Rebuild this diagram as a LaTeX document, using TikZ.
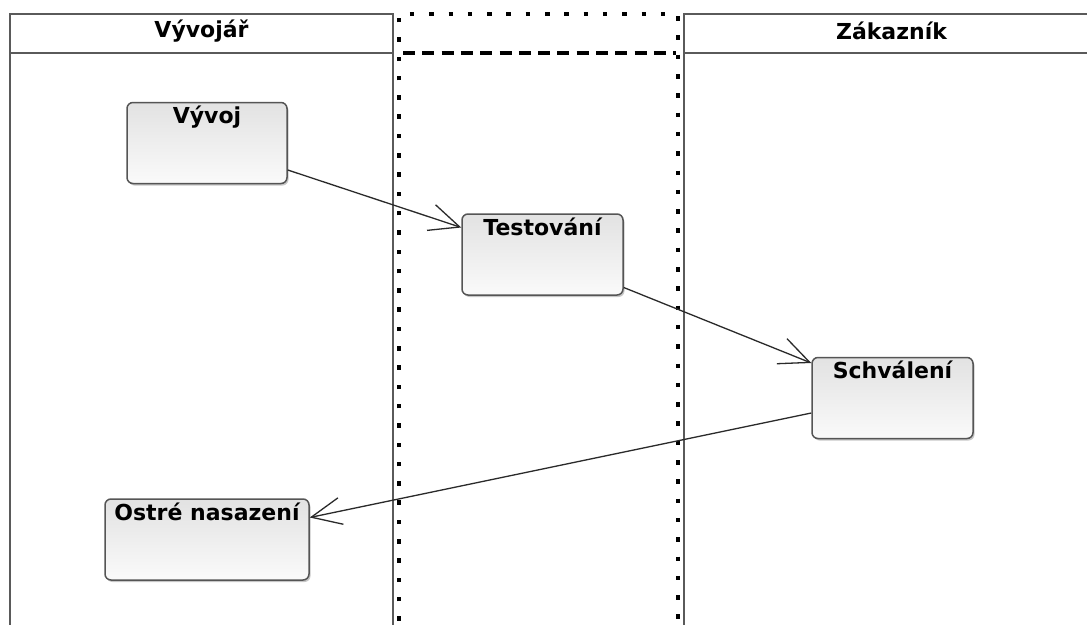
\documentclass[tikz,border=0pt]{standalone}
\usepackage{fontspec}
\setmainfont{DejaVu Sans}
\usetikzlibrary{arrows.meta,shadows}
\definecolor{lanegray}{HTML}{5A5A5A}
\definecolor{boxborder}{HTML}{555555}
\definecolor{boxtop}{HTML}{E2E2E2}
\definecolor{boxbot}{HTML}{FAFAFA}
\definecolor{linecol}{HTML}{2A2A2A}
\tikzset{
  lane/.style={draw=lanegray, line width=1.3pt},
  lanetitle/.style={font=\bfseries\fontsize{22}{26}\selectfont, text=black, inner sep=0pt},
  dotlane/.style={draw=black, line width=4.5pt, dash pattern=on 4.5pt off 14.8pt},
  dashlane/.style={draw=black, line width=4.5pt, dash pattern=on 12pt off 7.3pt},
  activity/.style={draw=boxborder, line width=1.5pt, rounded corners=6pt,
    top color=boxtop, bottom color=boxbot,
    drop shadow={shadow xshift=1.5pt, shadow yshift=-2pt, fill=black, opacity=0.22},
    font=\bfseries\fontsize{22}{26}\selectfont, text=black,
    inner xsep=0pt, inner ysep=5pt, text height=16pt, text depth=55pt},
  flow/.style={draw=linecol, line width=1.3pt,
    -{Straight Barb[length=30pt, width=27pt]}}
}
\begin{document}
\begin{tikzpicture}[x=1pt, y=-1pt]
\useasboundingbox (0,0) rectangle (1087,624);
\clip (0,0) rectangle (1087,624);
\fill[white] (0,0) rectangle (1087,624);
% left lane
\draw[lane] (10,640) -- (10,14) -- (393,14) -- (393,640);
\draw[lane] (10,53) -- (393,53);
\node[lanetitle] (t1) at (201.5,31) {Vývojář};
% right lane
\draw[lane] (684,640) -- (684,14) -- (1099,14);
\draw[lane] (684,53) -- (1099,53);
\node[lanetitle] (t2) at (891.5,31) {Zákazník};
% middle lane
\draw[dotlane] (399,640) -- (399,14) -- (678,14) -- (678,640);
\draw[dashlane] (403,53) -- (676,53);
% activities
\node[activity, minimum width=160pt] (vyvoj) at (207,143) {Vývoj};
\node[activity, minimum width=161pt] (test) at (542.5,254.5) {Testování};
\node[activity, minimum width=161pt] (schv) at (892.5,398) {Schválení};
\node[activity, minimum width=204pt] (ostre) at (207,539.5) {Ostré nasazení};
% flows
\draw[flow] ([yshift=-27pt]vyvoj.east) -- ([yshift=27pt]test.west);
\draw[flow] ([yshift=-33pt]test.east) -- ([yshift=35pt]schv.west);
\draw[flow] ([yshift=-15pt]schv.west) -- ([yshift=22pt]ostre.east);
\end{tikzpicture}
\end{document}
